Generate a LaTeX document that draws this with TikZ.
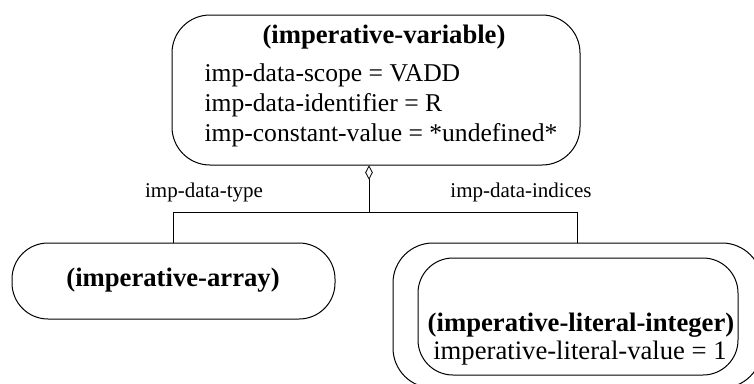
\documentclass[tikz,border=0pt]{standalone}
\usepackage{fontspec}
\setmainfont{Liberation Serif}
\usetikzlibrary{shapes.geometric}

\tikzset{every picture/.style={line width=0.75pt}}
\tikzset{
  objbox/.style={draw, inner sep=0pt},
  ttl/.style={inner sep=0.75pt, font=\bfseries\fontsize{20}{22.5}\selectfont},
  attr/.style={inner sep=0.75pt, font=\fontsize{20}{22.5}\selectfont},
  role/.style={inner sep=0.75pt, font=\fontsize{15.75}{18}\selectfont}
}

\begin{document}
\begin{tikzpicture}[x=0.75pt,y=0.75pt,yscale=-1,xscale=1]
\useasboundingbox (0,0) rectangle (754,383);

%Shape: Rounded Rect [id:var] 
\node [objbox, rounded corners=28.5pt, minimum width=306pt, minimum height=112.5pt] (var) at (376,90) {};
%Shape: Rounded Rect [id:arr] 
\node [objbox, rounded corners=27pt, minimum width=242.25pt, minimum height=57pt] (arr) at (173.5,281) {};
%Shape: Rounded Rect [id:idx] 
\node [objbox, rounded corners=30pt, minimum width=276.75pt, minimum height=108.75pt] (idx) at (577.5,315.5) {};
%Shape: Rounded Rect [id:lit] 
\node [objbox, rounded corners=26.25pt, minimum width=240pt, minimum height=87.75pt] (lit) at (578,316.5) {};

%Shape: Diamond [id:dia] 
\node [diamond, draw, line width=0.6pt, inner sep=0pt, minimum width=5.25pt, minimum height=9.75pt] (dia) at (369,172.5) {};
\coordinate (jl) at (173.5,212);
\coordinate (jr) at (577.5,212);
%Straight Lines [id:links] 
\draw [line width=0.6pt]  (dia.south) -- (dia.south |- jl) ;
\draw [line width=0.6pt]  (arr.north) |- (jr) -- (idx.north) ;

% Text Node
\node [ttl] (vart) at (384,37) {(imperative-variable)};
% Text Node
\node [attr, anchor=west, font=\fontsize{19.2}{22.5}\selectfont] (va1) at (203,75) {imp-data-scope = VADD};
% Text Node
\node [attr, anchor=west, font=\fontsize{19.2}{22.5}\selectfont] (va2) at (203,105) {imp-data-identifier = R};
% Text Node
\node [attr, anchor=west, font=\fontsize{19.2}{22.5}\selectfont] (va3) at (203,135) {imp-constant-value = *undefined*};
% Text Node
\node [role] (rtype) at (204,192) {imp-data-type};
% Text Node
\node [role] (rind) at (521,192) {imp-data-indices};
% Text Node
\node [ttl] (arrt) at (173,280) {(imperative-array)};
% Text Node
\node [ttl] (litt) at (581,325) {(imperative-literal-integer)};
% Text Node
\node [attr] (lita) at (580,353) {imperative-literal-value = 1};

\end{tikzpicture}
\end{document}
